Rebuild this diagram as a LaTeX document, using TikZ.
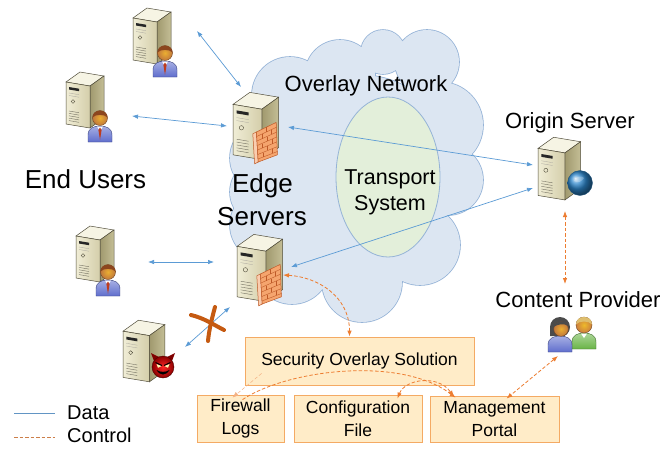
\documentclass[tikz,border=0pt]{standalone}
\usepackage{fontspec}
\setmainfont{Liberation Sans}
\usetikzlibrary{arrows.meta,calc}

\definecolor{cloudfill}{RGB}{220,230,242}
\definecolor{cloudline}{RGB}{149,179,215}
\definecolor{corefill}{RGB}{227,239,218}
\definecolor{datablue}{RGB}{91,155,213}
\definecolor{ctrlorange}{RGB}{237,125,49}
\definecolor{boxfill}{RGB}{255,236,200}
\definecolor{boxline}{RGB}{244,170,100}
\definecolor{srvfront}{RGB}{240,237,214}
\definecolor{srvfrontdark}{RGB}{212,206,170}
\definecolor{srvside}{RGB}{160,153,110}
\definecolor{srvsidelight}{RGB}{196,190,150}
\definecolor{srvtop}{RGB}{246,244,228}
\definecolor{srvline}{RGB}{80,76,58}
\definecolor{skin}{RGB}{226,140,70}
\definecolor{hairbrown}{RGB}{140,70,30}
\definecolor{hairdark}{RGB}{75,75,75}
\definecolor{hairfair}{RGB}{222,190,110}
\definecolor{shirtblue}{RGB}{95,110,205}
\definecolor{shirtgreen}{RGB}{105,180,70}
\definecolor{tiered}{RGB}{190,60,30}
\definecolor{brick}{RGB}{245,165,110}
\definecolor{brickline}{RGB}{190,90,40}
\definecolor{crossmark}{RGB}{197,90,17}
\definecolor{globeblue}{RGB}{45,135,205}

\tikzset{
  >={Latex[length=6pt,width=4.5pt]},
  spot/.style={inner sep=0pt, minimum size=0pt},
  data/.style={datablue, line width=0.7pt, <->},
  ctrl/.style={ctrlorange, line width=0.8pt, dash pattern=on 3.5pt off 2pt},
  stepbox/.style={draw=boxline, fill=boxfill, line width=0.8pt, inner sep=0pt,
    align=center, font=\fontsize{17.5}{23}\selectfont},
  bigtxt/.style={inner sep=0pt, anchor=base, font=\fontsize{26}{30}\selectfont},
  midtxt/.style={inner sep=0pt, anchor=base, font=\fontsize{22}{26}\selectfont},
  coretxt/.style={inner sep=0pt, anchor=base, font=\fontsize{21.5}{26}\selectfont},
  legtxt/.style={inner sep=0pt, anchor=base west, font=\fontsize{20}{24}\selectfont},
  outline/.style={draw=srvline, line width=0.5pt},
  % tower server, top-left corner of its box at the origin
  server/.pic={
    \fill[srvtop, outline] (0,12) -- (14,2) -- (38,6) -- (24,16) -- cycle;
    \shadedraw[left color=srvside, right color=srvsidelight, outline]
      (24,16) -- (38,6) -- (38,48) -- (24,58) -- cycle;
    \shadedraw[left color=srvfront, right color=srvfrontdark, outline]
      (0,12) -- (24,16) -- (24,58) -- (0,54) -- cycle;
    \fill[black!85] (3,17) -- (13,18.7) -- (13,21.2) -- (3,19.5) -- cycle;
    \draw[srvline!50, line width=0.3pt] (3,23) -- (13,24.7) (3,25.5) -- (13,27.2);
    \draw[srvline, line width=0.4pt] (7,31.5) circle (1.8);
    \foreach \k in {0,...,4}
      \draw[srvline!80, line width=0.4pt] (3,{41+2.4*\k}) -- (13,{42.7+2.4*\k});
  },
  % brick wall on the side of an edge server
  firewall/.pic={
    \filldraw[fill=brick!55!white, draw=brickline, line width=0.5pt]
      (16.5,36.5) -- (19.5,35) -- (21,60) -- (18,61.5) -- cycle;
    \filldraw[fill=brick, draw=brickline, line width=0.5pt]
      (19.5,35) -- (36,27) -- (37,54) -- (21,60) -- cycle;
    \foreach \t in {0.15,0.3,0.45,0.6,0.75,0.9}
      \draw[brickline, line width=0.4pt] ($(19.5,35)!\t!(21,60)$) -- ($(36,27)!\t!(37,54)$);
    \foreach \t/\s in {0.075/0.5,0.225/0.25,0.225/0.75,0.375/0.5,0.525/0.25,0.525/0.75,0.675/0.5,0.825/0.25,0.825/0.75}
      \draw[brickline, line width=0.35pt]
        ($($(19.5,35)!\t!(21,60)$)!\s!($(36,27)!\t!(37,54)$)+(0,-1.8)$) -- +(0,3.6);
  },
  % person, head centre at the origin
  user/.pic={
    \shadedraw[top color=shirtblue!55!white, bottom color=shirtblue, draw=shirtblue!60!black, line width=0.4pt]
      (-12,24) -- (-12,17) .. controls (-12,10) and (-6,8) .. (0,8)
      .. controls (6,8) and (12,10) .. (12,17) -- (12,24) -- cycle;
    \fill[white] (-3,8.5) -- (0,13) -- (3,8.5) -- cycle;
    \fill[tiered] (0,9.5) -- (-1.6,12) -- (0,22) -- (1.6,12) -- cycle;
    \shadedraw[inner color=skin!70!yellow, outer color=skin!85!black, draw=skin!50!black, line width=0.4pt]
      (0,0) circle (7.5);
    \fill[hairbrown] (-7.5,-0.5) .. controls (-7.5,-9.5) and (7.5,-9.5) .. (7.5,-0.5)
      .. controls (5,-4) and (-5,-4) .. cycle;
  },
  woman/.pic={
    \fill[hairdark] (0,-1) circle (10);
    \fill[hairdark] (-10,-1) -- (-10,8) -- (-4,8) -- (-4,0) -- cycle;
    \shadedraw[top color=shirtblue!55!white, bottom color=shirtblue, draw=shirtblue!60!black, line width=0.4pt]
      (-12,24) -- (-12,17) .. controls (-12,10) and (-6,8) .. (0,8)
      .. controls (6,8) and (12,10) .. (12,17) -- (12,24) -- cycle;
    \shadedraw[inner color=skin!70!yellow, outer color=skin!85!black, draw=skin!50!black, line width=0.4pt]
      (1,1) circle (7.3);
    \fill[hairdark] (-6.5,-1) .. controls (-5,-8) and (6,-9) .. (8,-2)
      .. controls (4,-5) and (-2,-4) .. cycle;
  },
  man/.pic={
    \shadedraw[top color=shirtgreen!55!white, bottom color=shirtgreen, draw=shirtgreen!60!black, line width=0.4pt]
      (-12,24) -- (-12,17) .. controls (-12,10) and (-6,8) .. (0,8)
      .. controls (6,8) and (12,10) .. (12,17) -- (12,24) -- cycle;
    \fill[white] (-3,8.5) -- (0,13) -- (3,8.5) -- cycle;
    \shadedraw[inner color=skin!60!yellow, outer color=skin!90!black, draw=skin!50!black, line width=0.4pt]
      (0,0) circle (8);
    \fill[hairfair] (-8,-0.5) .. controls (-8,-10.5) and (8,-10.5) .. (8,-0.5)
      .. controls (5,-4.5) and (-5,-4.5) .. cycle;
  },
  devil/.pic={
    \fill[red!50!black] (-9,-6) -- (-12,-14) -- (-4,-10) -- cycle;
    \fill[red!50!black] (9,-6) -- (12,-14) -- (4,-10) -- cycle;
    \shadedraw[inner color=red!85!white, outer color=red!55!black, draw=red!30!black, line width=0.4pt]
      (0,0) circle (11);
    \fill[yellow!30] (-6.5,-3) -- (-1.5,-1) -- (-5,0.8) -- cycle;
    \fill[yellow!30] (6.5,-3) -- (1.5,-1) -- (5,0.8) -- cycle;
    \draw[black, line width=1pt] (-7.5,-4.5) -- (-1,-1.5) (7.5,-4.5) -- (1,-1.5);
    \fill[black] (-6.5,3) .. controls (-3,9) and (3,9) .. (6.5,3)
      .. controls (3,5.5) and (-3,5.5) .. cycle;
  },
  globe/.pic={
    \shade[ball color=globeblue] (0,0) circle (12.5);
    \fill[white, opacity=0.25] (-6,-2) .. controls (-4,-7) and (2,-8) .. (4,-5)
      .. controls (2,-2) and (-2,1) .. cycle;
    \draw[globeblue!60!black, line width=0.3pt] (0,0) circle (12.5);
  }
}

% the overlay network cloud as a union of discs
\newcommand\cloudparts{%
  (290,95) circle (38) (340,75) circle (35) (383,52) circle (22) (427,62) circle (32)
  (440,125) circle (43) (448,180) circle (35) (420,245) circle (40) (362,282) circle (40)
  (292,266) circle (38) (266,225) circle (36) (263,192) circle (33) (266,158) circle (36)
  (360,170) circle (95)}

\begin{document}
\begin{tikzpicture}[x=1pt, y=-1pt]
\useasboundingbox (0,0) rectangle (665,448);
\fill[white] (0,0) rectangle (665,448);

% cloud: thick outline first, fill on top keeps only the outer edge
\draw[cloudline, line width=1.6pt] \cloudparts;
\fill[cloudfill] \cloudparts;
\filldraw[fill=corefill, draw=cloudline, line width=0.8pt] (388,177) ellipse [x radius=52, y radius=80];

% labels
\node[midtxt] (overlay) at (366,91) {Overlay Network};
\node[coretxt] (transport) at (390,184) {Transport};
\node[coretxt] (system) at (390,210) {System};
\node[bigtxt] (endusers) at (85.5,188) {End Users};
\node[bigtxt] (edgeA) at (262.5,192) {Edge};
\node[bigtxt] (edgeB) at (262,225) {Servers};
\node[midtxt] (originlbl) at (570,128) {Origin Server};
\node[midtxt] (contentlbl) at (578,307) {Content Provider};

% icon anchors
\node[spot] (u1) at (155,42) {};
\node[spot] (u2) at (88,106) {};
\node[spot] (u3) at (97,260) {};
\node[spot] (mal) at (147,352) {};
\node[spot] (edge1) at (255,126) {};
\node[spot] (edge2) at (259,268) {};
\node[spot] (origin) at (561,170) {};
\node[spot] (content) at (572,338) {};

% end users
\pic at ($(u1)+(-22,-36)$) {server};
\pic at ($(u1)+(10,11)$) {user};
\pic at ($(u2)+(-22,-36)$) {server};
\pic at ($(u2)+(12,12)$) {user};
\pic at ($(u3)+(-21,-36)$) {server};
\pic at ($(u3)+(11,12)$) {user};
\pic[scale=1.1] at ($(mal)+(-24,-34)$) {server};
\pic at ($(mal)+(16,15)$) {devil};

% edge servers with firewalls
\pic[scale=1.2] at ($(edge1)+(-22,-36)$) {server};
\pic[scale=1.2] at ($(edge1)+(-22,-36)$) {firewall};
\pic[scale=1.2] at ($(edge2)+(-22,-36)$) {server};
\pic[scale=1.2] at ($(edge2)+(-22,-36)$) {firewall};

% origin server and content provider
\pic[scale=1.12] at ($(origin)+(-23,-35)$) {server};
\pic at ($(origin)+(19,13)$) {globe};
\pic at ($(content)+(12,-13)$) {man};
\pic at ($(content)+(-12,-10)$) {woman};

% security components
\node[stepbox, minimum width=229pt, minimum height=48pt] (sec) at (359.5,361) {Security Overlay Solution};
\node[stepbox, minimum width=87pt, minimum height=47pt] (fw) at (240.5,418.5) {Firewall\\Logs};
\node[stepbox, minimum width=128pt, minimum height=47pt] (cfg) at (358,418.5) {Configuration\\File};
\node[stepbox, minimum width=129pt, minimum height=46pt] (mgmt) at (494.5,419) {Management\\Portal};

% data paths
\draw[data] ($(u1)+(42,-11)$) -- ($(edge1)+(-14,-39)$);
\draw[data] ($(u2)+(44,10)$) -- ($(edge1)+(-28,0)$);
\draw[data] ($(edge1)+(33,1)$) -- ($(origin)+(-28,-5)$);
\draw[data] ($(edge2)+(32,-1)$) -- ($(origin)+(-28,18)$);
\draw[data] ($(u3)+(51,2)$) -- ($(edge2)+(-45,-6)$);
\draw[data] ($(mal)+(38,-5)$) -- ($(edge2)+(-29,39)$);

% blocked request
\draw[crossmark, line width=4pt, line cap=round]
  (191,315) .. controls (204,318) and (214,325) .. (224,330);
\draw[crossmark, line width=4pt, line cap=round]
  (215,307) .. controls (212,318) and (209,330) .. (208,341);

% control paths
\draw[ctrl, <->] ($(edge2)+(24,7)$) .. controls +(35,2) and +(0,-40) .. ($(sec.north)+(-10,0)$);
\draw[ctrl, <->] ($(origin)+(4,41)$) -- ($(content)+(-7,-54)$);
\draw[ctrl, <->] ($(content)+(-14,18)$) -- ($(mgmt.north)+(12,3)$);
\draw[ctrl, ctrlorange!60, line width=0.5pt, ->] ($(sec.south west)+(17,-12)$) -- ($(fw.north)+(-8,3)$);
\draw[ctrl, ->] ($(fw.north)+(2,5)$) .. controls +(45,-30) and +(-55,-42) .. ($(mgmt.north west)+(26,2)$);
\draw[ctrl, <->] ($(cfg.north east)+(-25,4)$) .. controls +(8,-20) and +(-15,-22) .. ($(mgmt.north west)+(24,1)$);

% legend
\coordinate (dataA) at (14,413);
\coordinate (dataB) at (55,413);
\coordinate (ctrlA) at (14,437);
\coordinate (ctrlB) at (55,437);
\draw[datablue!80!gray, line width=0.7pt] (dataA) -- (dataB);
\draw[ctrl, ctrlorange!70!gray, line width=0.6pt] (ctrlA) -- (ctrlB);
\node[legtxt] (datalbl) at (67,419) {Data};
\node[legtxt] (ctrllbl) at (67,442) {Control};
\end{tikzpicture}
\end{document}
